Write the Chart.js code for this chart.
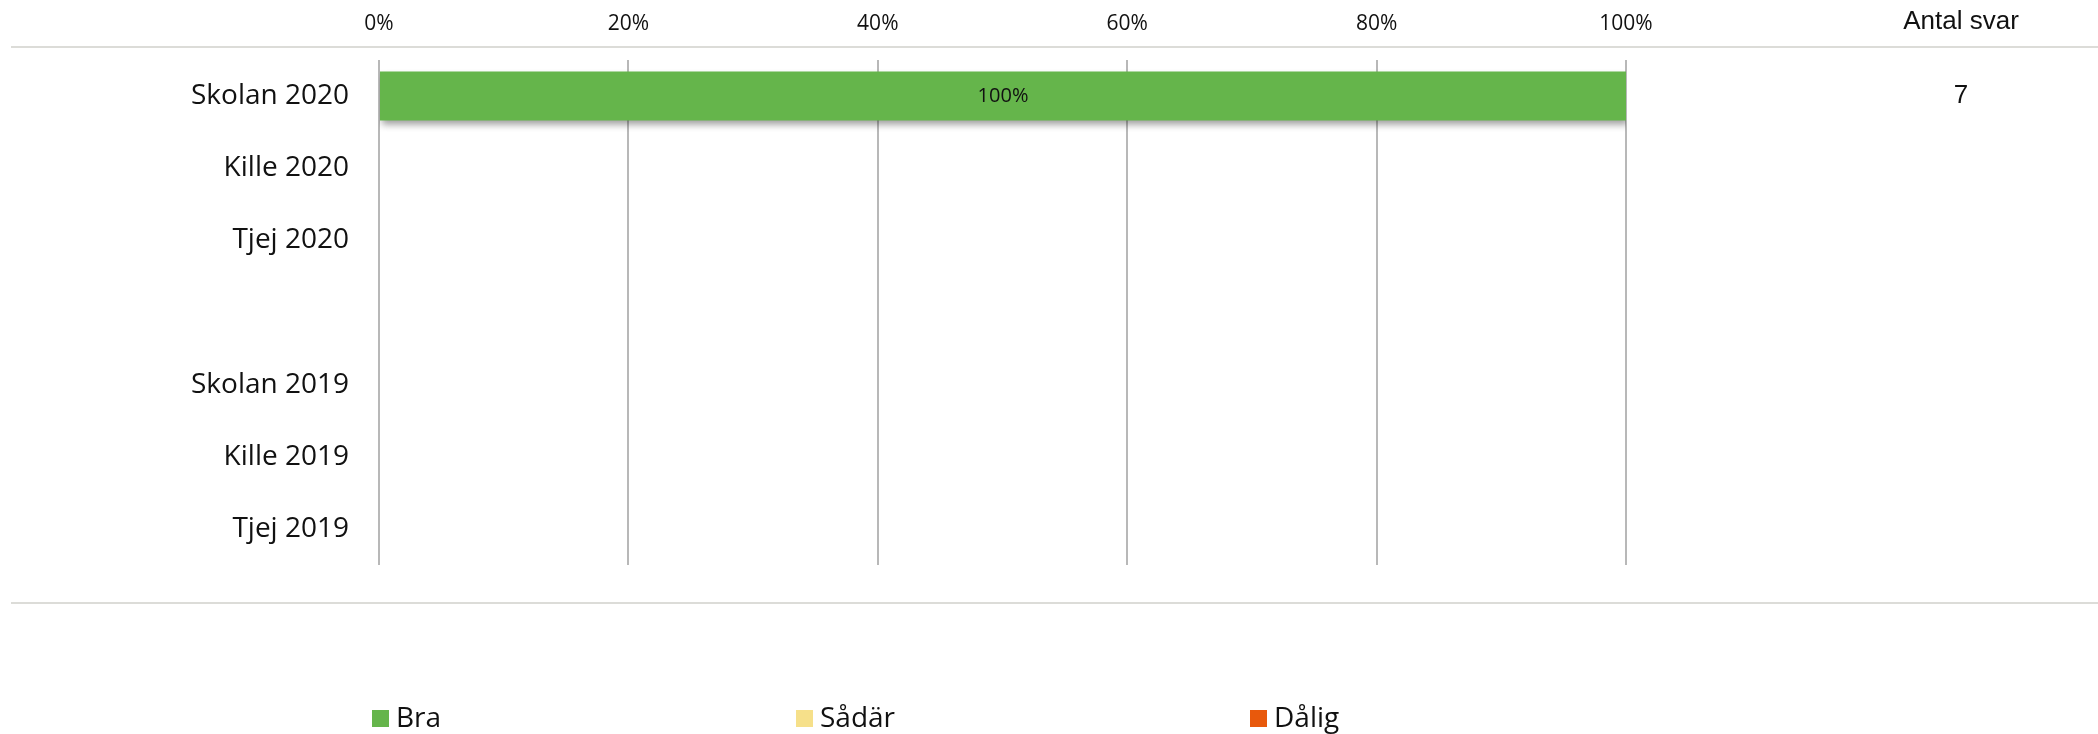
<!DOCTYPE html>
<html>
<head>
<meta charset="utf-8">
<script src="https://cdn.jsdelivr.net/npm/chart.js@4.4.1/dist/chart.umd.min.js"></script>
<style>
  html, body { margin: 0; padding: 0; background: #fff; }
  #wrap { position: relative; width: 2098px; height: 734px; }
</style>
</head>
<body>
<div id="wrap"><canvas id="chart" width="2098" height="734"></canvas></div>
<script>
// rows (the empty one is the gap between the two years)
const categories = ["Skolan 2020", "Kille 2020", "Tjej 2020", "", "Skolan 2019", "Kille 2019", "Tjej 2019"];
const bra   = [100, null, null, null, null, null, null];
const sadar = [null, null, null, null, null, null, null];
const dalig = [null, null, null, null, null, null, null];
const antalSvar = ["7", "", "", "", "", "", ""];
const xTicks = [0, 20, 40, 60, 80, 100];

const seriesNames = ["Bra", "Sådär", "Dålig"];
const seriesColors = ["#65b54b", "#f6e08a", "#e8590c"];

const labelFont = "'Open Sans', sans-serif";

/* horizontal rules, "Antal svar" column, value labels and legend */
const extras = {
    id: "extras",
    beforeDatasetsDraw(chart) {
        const ctx = chart.ctx;
        ctx.save();
        ctx.shadowColor = "rgba(0,0,0,0.38)";
        ctx.shadowBlur = 7;
        ctx.shadowOffsetX = 2;
        ctx.shadowOffsetY = 4;
    },
    afterDatasetsDraw(chart) {
        chart.ctx.restore();
    },
    beforeDraw(chart) {
        const ctx = chart.ctx;
        ctx.save();
        ctx.strokeStyle = "#dcdcd8";
        ctx.lineWidth = 2;
        [47, 603].forEach(y => {
            ctx.beginPath();
            ctx.moveTo(11, y);
            ctx.lineTo(2098, y);
            ctx.stroke();
        });
        ctx.restore();
    },
    afterDraw(chart) {
        const ctx = chart.ctx;
        const yScale = chart.scales.y;
        ctx.save();

        // value labels inside the bars
        ctx.fillStyle = "#111";
        ctx.font = "20px " + labelFont;
        ctx.textAlign = "center";
        ctx.textBaseline = "middle";
        chart.data.datasets.forEach((ds, i) => {
            chart.getDatasetMeta(i).data.forEach((bar, j) => {
                const v = ds.data[j];
                if (!v) return;
                ctx.fillText(v + "%", (bar.x + bar.base) / 2, bar.y);
            });
        });

        // "Antal svar" column
        ctx.font = "26px 'Liberation Sans', Arial, sans-serif";
        ctx.fillText("Antal svar", 1961, 22);
        antalSvar.forEach((n, i) => {
            if (n) ctx.fillText(n, 1961, yScale.getPixelForValue(i));
        });

        // legend
        const legendX = [372, 796, 1250];
        ctx.font = "28px " + labelFont;
        ctx.textAlign = "left";
        seriesNames.forEach((name, i) => {
            ctx.fillStyle = seriesColors[i];
            ctx.fillRect(legendX[i], 710, 17, 17);
            ctx.fillStyle = "#111";
            ctx.fillText(name, legendX[i] + 24, 719);
        });
        ctx.restore();
    }
};

new Chart(document.getElementById("chart"), {
    type: "bar",
    data: {
        labels: categories,
        datasets: [
            { label: seriesNames[0], data: bra,   backgroundColor: seriesColors[0] },
            { label: seriesNames[1], data: sadar, backgroundColor: seriesColors[1] },
            { label: seriesNames[2], data: dalig, backgroundColor: seriesColors[2] }
        ]
    },
    options: {
        indexAxis: "y",
        responsive: false,
        animation: false,
        events: [],
        layout: { padding: { top: 0, right: 472, bottom: 169, left: 0 } },
        datasets: { bar: { barPercentage: 0.68, categoryPercentage: 1 } },
        scales: {
            x: {
                position: "top",
                stacked: true,
                min: 0,
                max: 100,
                afterBuildTicks: s => { s.ticks = xTicks.map(v => ({ value: v })); },
                afterFit: s => { s.height = 60; },
                grid: { color: "#b8b8b8", lineWidth: 2, drawTicks: false },
                border: { display: false },
                ticks: {
                    padding: 23,
                    color: "#111",
                    font: { family: labelFont, size: 21 },
                    callback: v => v + "%"
                }
            },
            y: {
                stacked: true,
                afterFit: s => { s.width = 379; },
                grid: { display: false, drawTicks: false },
                border: { display: false },
                ticks: {
                    padding: 30,
                    color: "#111",
                    font: { family: labelFont, size: 28 }
                }
            }
        },
        plugins: {
            legend: { display: false },
            tooltip: { enabled: false }
        }
    },
    plugins: [extras]
});
</script>
</body>
</html>
